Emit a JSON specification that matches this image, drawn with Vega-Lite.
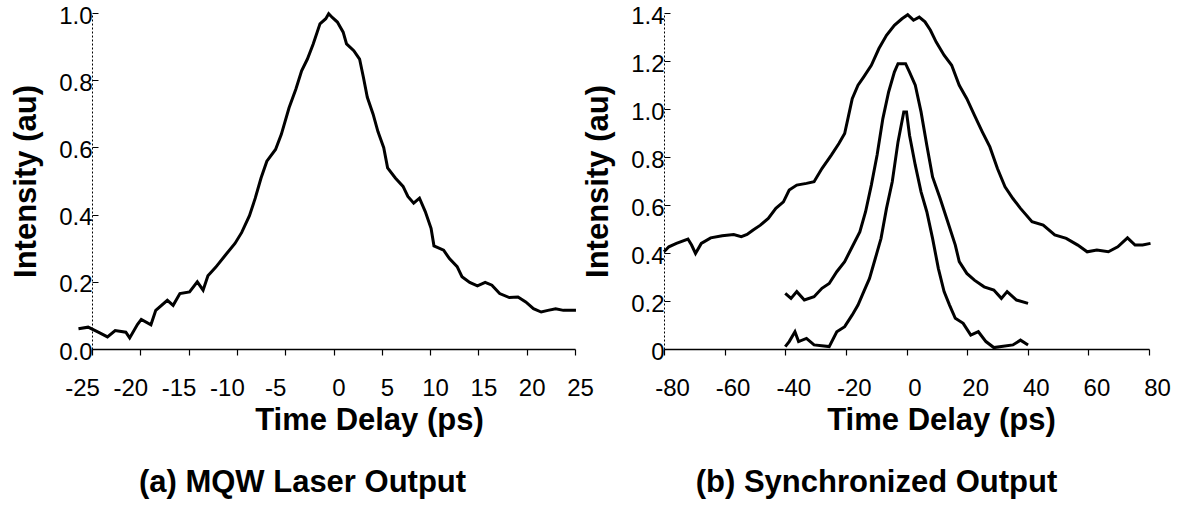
{
  "$schema": "https://vega.github.io/schema/vega-lite/v6.json",
  "background": "white",
  "padding": {"left": 10, "top": 4, "right": 5, "bottom": 2},
  "spacing": 89,
  "bounds": "flush",
  "config": {
    "view": {"stroke": null},
    "font": "Liberation Sans",
    "axis": {
      "labelFont": "Liberation Sans",
      "labelFontSize": 24,
      "labelColor": "black",
      "titleFont": "Liberation Sans",
      "titleFontSize": 31,
      "titleFontWeight": "bold",
      "titleColor": "black",
      "grid": false,
      "domainColor": "black",
      "tickColor": "black"
    }
  },
  "datasets": {
    "left": [
      {"t": -26.4, "v": 0.06}, {"t": -25.4, "v": 0.065}, {"t": -24.2, "v": 0.048}, {"t": -23.4, "v": 0.036},
      {"t": -22.6, "v": 0.055}, {"t": -21.5, "v": 0.05}, {"t": -21.1, "v": 0.033}, {"t": -20.3, "v": 0.073},
      {"t": -19.9, "v": 0.088}, {"t": -18.9, "v": 0.072}, {"t": -18.4, "v": 0.115}, {"t": -17.2, "v": 0.145},
      {"t": -16.6, "v": 0.13}, {"t": -15.9, "v": 0.165}, {"t": -14.9, "v": 0.17}, {"t": -14.1, "v": 0.2},
      {"t": -13.5, "v": 0.175}, {"t": -13.0, "v": 0.218}, {"t": -12.2, "v": 0.243}, {"t": -11.2, "v": 0.279},
      {"t": -10.2, "v": 0.314}, {"t": -9.5, "v": 0.347}, {"t": -8.7, "v": 0.397}, {"t": -8.1, "v": 0.449},
      {"t": -7.5, "v": 0.509}, {"t": -6.9, "v": 0.559}, {"t": -6.0, "v": 0.594}, {"t": -5.4, "v": 0.639},
      {"t": -4.6, "v": 0.718}, {"t": -3.9, "v": 0.773}, {"t": -3.3, "v": 0.828}, {"t": -2.7, "v": 0.863},
      {"t": -2.1, "v": 0.908}, {"t": -1.4, "v": 0.968}, {"t": -0.8, "v": 0.983}, {"t": -0.5, "v": 0.998},
      {"t": -0.1, "v": 0.986}, {"t": 0.4, "v": 0.973}, {"t": 1.0, "v": 0.943}, {"t": 1.35, "v": 0.908},
      {"t": 2.1, "v": 0.888}, {"t": 2.7, "v": 0.863}, {"t": 3.1, "v": 0.808}, {"t": 3.5, "v": 0.749},
      {"t": 4.1, "v": 0.699}, {"t": 4.6, "v": 0.647}, {"t": 5.2, "v": 0.599}, {"t": 5.6, "v": 0.539},
      {"t": 6.4, "v": 0.509}, {"t": 7.2, "v": 0.484}, {"t": 7.7, "v": 0.454}, {"t": 8.3, "v": 0.434},
      {"t": 8.9, "v": 0.449}, {"t": 9.5, "v": 0.409}, {"t": 10.1, "v": 0.359}, {"t": 10.4, "v": 0.307},
      {"t": 11.4, "v": 0.294}, {"t": 12.0, "v": 0.269}, {"t": 12.8, "v": 0.245}, {"t": 13.3, "v": 0.215},
      {"t": 14.1, "v": 0.198}, {"t": 14.9, "v": 0.188}, {"t": 15.7, "v": 0.198}, {"t": 16.4, "v": 0.19},
      {"t": 17.2, "v": 0.165}, {"t": 18.2, "v": 0.153}, {"t": 19.1, "v": 0.155}, {"t": 19.9, "v": 0.14},
      {"t": 20.7, "v": 0.12}, {"t": 21.5, "v": 0.11}, {"t": 22.2, "v": 0.115}, {"t": 23.0, "v": 0.12},
      {"t": 23.8, "v": 0.115}, {"t": 25.1, "v": 0.115}
    ],
    "right": [
      {"s": "a", "t": -80.0, "v": 0.405}, {"s": "a", "t": -78.4, "v": 0.426}, {"s": "a", "t": -75.9, "v": 0.44},
      {"s": "a", "t": -72.1, "v": 0.458}, {"s": "a", "t": -70.9, "v": 0.433}, {"s": "a", "t": -69.6, "v": 0.398},
      {"s": "a", "t": -67.7, "v": 0.44}, {"s": "a", "t": -64.6, "v": 0.463}, {"s": "a", "t": -60.8, "v": 0.472},
      {"s": "a", "t": -57.0, "v": 0.477}, {"s": "a", "t": -54.5, "v": 0.468}, {"s": "a", "t": -52.6, "v": 0.477},
      {"s": "a", "t": -50.7, "v": 0.495}, {"s": "a", "t": -48.2, "v": 0.516}, {"s": "a", "t": -45.6, "v": 0.544},
      {"s": "a", "t": -43.1, "v": 0.586}, {"s": "a", "t": -40.6, "v": 0.613}, {"s": "a", "t": -38.7, "v": 0.662},
      {"s": "a", "t": -36.2, "v": 0.683}, {"s": "a", "t": -33.0, "v": 0.69}, {"s": "a", "t": -30.5, "v": 0.697},
      {"s": "a", "t": -27.9, "v": 0.752}, {"s": "a", "t": -24.8, "v": 0.808}, {"s": "a", "t": -22.3, "v": 0.856},
      {"s": "a", "t": -20.4, "v": 0.898}, {"s": "a", "t": -19.2, "v": 0.967}, {"s": "a", "t": -17.9, "v": 1.043},
      {"s": "a", "t": -16.0, "v": 1.099}, {"s": "a", "t": -14.1, "v": 1.134}, {"s": "a", "t": -11.6, "v": 1.182},
      {"s": "a", "t": -9.1, "v": 1.252}, {"s": "a", "t": -6.6, "v": 1.307}, {"s": "a", "t": -4.0, "v": 1.349},
      {"s": "a", "t": -1.5, "v": 1.376}, {"s": "a", "t": 0.4, "v": 1.393}, {"s": "a", "t": 2.3, "v": 1.37},
      {"s": "a", "t": 4.2, "v": 1.383}, {"s": "a", "t": 6.1, "v": 1.363}, {"s": "a", "t": 7.9, "v": 1.328},
      {"s": "a", "t": 9.8, "v": 1.279}, {"s": "a", "t": 12.4, "v": 1.224}, {"s": "a", "t": 14.9, "v": 1.182},
      {"s": "a", "t": 17.4, "v": 1.099}, {"s": "a", "t": 19.9, "v": 1.043}, {"s": "a", "t": 22.4, "v": 0.974},
      {"s": "a", "t": 25.0, "v": 0.905}, {"s": "a", "t": 27.5, "v": 0.842}, {"s": "a", "t": 30.0, "v": 0.752},
      {"s": "a", "t": 32.5, "v": 0.676}, {"s": "a", "t": 35.1, "v": 0.627}, {"s": "a", "t": 37.6, "v": 0.586},
      {"s": "a", "t": 41.4, "v": 0.53}, {"s": "a", "t": 45.1, "v": 0.516}, {"s": "a", "t": 48.9, "v": 0.475},
      {"s": "a", "t": 52.7, "v": 0.461}, {"s": "a", "t": 56.5, "v": 0.433}, {"s": "a", "t": 59.6, "v": 0.405},
      {"s": "a", "t": 62.8, "v": 0.412}, {"s": "a", "t": 66.6, "v": 0.405}, {"s": "a", "t": 69.7, "v": 0.426},
      {"s": "a", "t": 72.9, "v": 0.463}, {"s": "a", "t": 75.4, "v": 0.433}, {"s": "a", "t": 77.9, "v": 0.433},
      {"s": "a", "t": 80.5, "v": 0.44},
      {"s": "b", "t": -40.0, "v": 0.232}, {"s": "b", "t": -38.1, "v": 0.211}, {"s": "b", "t": -36.2, "v": 0.239},
      {"s": "b", "t": -33.7, "v": 0.204}, {"s": "b", "t": -30.5, "v": 0.218}, {"s": "b", "t": -27.9, "v": 0.253},
      {"s": "b", "t": -25.5, "v": 0.273}, {"s": "b", "t": -23.0, "v": 0.322}, {"s": "b", "t": -20.4, "v": 0.364},
      {"s": "b", "t": -17.9, "v": 0.426}, {"s": "b", "t": -15.4, "v": 0.488}, {"s": "b", "t": -13.5, "v": 0.572},
      {"s": "b", "t": -11.6, "v": 0.683}, {"s": "b", "t": -9.7, "v": 0.808}, {"s": "b", "t": -7.8, "v": 0.96},
      {"s": "b", "t": -5.9, "v": 1.071}, {"s": "b", "t": -4.0, "v": 1.154}, {"s": "b", "t": -2.8, "v": 1.189},
      {"s": "b", "t": -0.3, "v": 1.189}, {"s": "b", "t": 1.0, "v": 1.154}, {"s": "b", "t": 2.9, "v": 1.099},
      {"s": "b", "t": 4.8, "v": 0.988}, {"s": "b", "t": 6.7, "v": 0.849}, {"s": "b", "t": 8.6, "v": 0.717},
      {"s": "b", "t": 11.1, "v": 0.627}, {"s": "b", "t": 13.6, "v": 0.53}, {"s": "b", "t": 16.1, "v": 0.433},
      {"s": "b", "t": 17.4, "v": 0.364}, {"s": "b", "t": 19.9, "v": 0.315}, {"s": "b", "t": 22.4, "v": 0.287},
      {"s": "b", "t": 25.6, "v": 0.259}, {"s": "b", "t": 28.8, "v": 0.246}, {"s": "b", "t": 31.3, "v": 0.211},
      {"s": "b", "t": 33.2, "v": 0.239}, {"s": "b", "t": 36.3, "v": 0.204}, {"s": "b", "t": 40.1, "v": 0.19},
      {"s": "c", "t": -40.0, "v": 0.01}, {"s": "c", "t": -38.7, "v": 0.031}, {"s": "c", "t": -36.8, "v": 0.072},
      {"s": "c", "t": -35.6, "v": 0.031}, {"s": "c", "t": -33.0, "v": 0.044}, {"s": "c", "t": -30.5, "v": 0.017},
      {"s": "c", "t": -25.5, "v": 0.01}, {"s": "c", "t": -23.0, "v": 0.072}, {"s": "c", "t": -20.4, "v": 0.093},
      {"s": "c", "t": -17.9, "v": 0.142}, {"s": "c", "t": -16.0, "v": 0.183}, {"s": "c", "t": -14.1, "v": 0.239},
      {"s": "c", "t": -12.2, "v": 0.294}, {"s": "c", "t": -10.3, "v": 0.377}, {"s": "c", "t": -8.4, "v": 0.461},
      {"s": "c", "t": -6.6, "v": 0.586}, {"s": "c", "t": -4.7, "v": 0.697}, {"s": "c", "t": -2.8, "v": 0.863},
      {"s": "c", "t": -0.9, "v": 0.988}, {"s": "c", "t": 0.0, "v": 0.988}, {"s": "c", "t": 1.0, "v": 0.891},
      {"s": "c", "t": 2.9, "v": 0.766}, {"s": "c", "t": 4.8, "v": 0.655}, {"s": "c", "t": 6.7, "v": 0.572},
      {"s": "c", "t": 8.6, "v": 0.461}, {"s": "c", "t": 10.5, "v": 0.336}, {"s": "c", "t": 12.4, "v": 0.239},
      {"s": "c", "t": 14.2, "v": 0.183}, {"s": "c", "t": 16.1, "v": 0.128}, {"s": "c", "t": 18.7, "v": 0.107},
      {"s": "c", "t": 21.2, "v": 0.058}, {"s": "c", "t": 23.7, "v": 0.072}, {"s": "c", "t": 26.2, "v": 0.031},
      {"s": "c", "t": 28.8, "v": 0.006}, {"s": "c", "t": 31.3, "v": 0.01}, {"s": "c", "t": 35.1, "v": 0.017},
      {"s": "c", "t": 37.6, "v": 0.037}, {"s": "c", "t": 40.1, "v": 0.017}
    ]
  },
  "hconcat": [
    {
      "width": 483,
      "height": 336,
      "title": {"text": "(a) MQW Laser Output", "orient": "bottom", "anchor": "middle", "dx": -31, "offset": 33, "fontSize": 31, "fontWeight": "bold", "font": "Liberation Sans", "color": "black"},
      "data": {"name": "left"},
      "mark": {"type": "line", "interpolate": "linear", "color": "black", "strokeWidth": 3, "clip": false},
      "encoding": {
        "x": {"field": "t", "type": "quantitative", "scale": {"domain": [-25, 25], "nice": false, "zero": false},
          "axis": {"title": "Time Delay (ps)", "values": [-25, -20, -15, -10, -5, 0, 5, 10, 15, 20, 25],
            "labelExpr": "replace(datum.label, '\u2212', '-')",
            "domainWidth": 1.5, "tickSize": 6, "tickWidth": 1.2, "labelPadding": 21, "labelFlush": false,
            "labelOffset": {"condition": {"test": "datum.value < 0", "value": -10}, "value": 5},
            "titleX": 277, "titlePadding": 5}},
        "y": {"field": "v", "type": "quantitative", "scale": {"domain": [0, 1], "nice": false},
          "axis": {"title": "Intensity (au)", "values": [0, 0.2, 0.4, 0.6, 0.8, 1.0], "format": ".1f",
            "domainDash": [2, 2], "domainWidth": 1, "tickSize": -6, "tickWidth": 1, "labelPadding": 6,
            "labelOffset": 3, "labelFlush": false, "titlePadding": 16}}
      }
    },
    {
      "width": 485,
      "height": 336,
      "title": {"text": "(b) Synchronized Output", "orient": "bottom", "anchor": "middle", "dx": -30, "offset": 33, "fontSize": 31, "fontWeight": "bold", "font": "Liberation Sans", "color": "black"},
      "data": {"name": "right"},
      "mark": {"type": "line", "interpolate": "linear", "color": "black", "strokeWidth": 3, "clip": false},
      "encoding": {
        "detail": {"field": "s"},
        "x": {"field": "t", "type": "quantitative", "scale": {"domain": [-80, 80], "nice": false, "zero": false},
          "axis": {"title": "Time Delay (ps)", "values": [-80, -60, -40, -20, 0, 20, 40, 60, 80],
            "labelExpr": "replace(datum.label, '\u2212', '-')",
            "domainWidth": 1.5, "tickSize": 6, "tickWidth": 1.2, "labelPadding": 21, "labelFlush": false,
            "labelOffset": 8, "titleX": 277, "titlePadding": 5}},
        "y": {"field": "v", "type": "quantitative", "scale": {"domain": [0, 1.4], "nice": false},
          "axis": {"title": "Intensity (au)", "values": [0, 0.2, 0.4, 0.6, 0.8, 1.0, 1.2, 1.4],
            "labelExpr": "datum.value == 0 ? '0' : format(datum.value, '.1f')",
            "domainDash": [2, 2], "domainWidth": 1, "tickSize": -6, "tickWidth": 1, "labelPadding": 6,
            "labelOffset": 3, "labelFlush": false, "titlePadding": 16}}
      }
    }
  ]
}
